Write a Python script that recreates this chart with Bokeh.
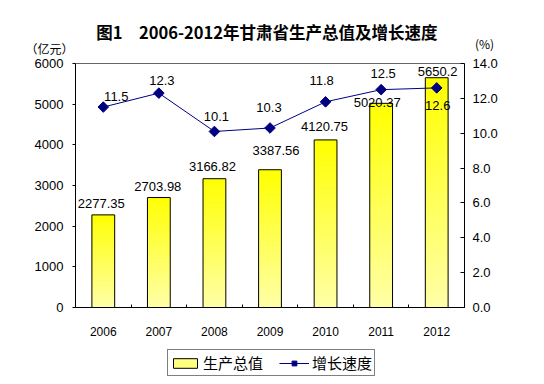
import math
from bokeh.plotting import figure
from bokeh.models import (ColumnDataSource, Range1d, LinearAxis, FixedTicker,
                          PrintfTickFormatter, Legend, LegendItem, Label)
from bokeh.core.properties import value
from bokeh.embed import file_html
from bokeh.resources import INLINE

# ---- data ----
years = ["2006", "2007", "2008", "2009", "2010", "2011", "2012"]
gdp = [2277.35, 2703.98, 3166.82, 3387.56, 4120.75, 5020.37, 5650.2]
growth = [11.5, 12.3, 10.1, 10.3, 11.8, 12.5, 12.6]
gdp_ticks = [0, 1000, 2000, 3000, 4000, 5000, 6000]
pct_ticks = [0, 2, 4, 6, 8, 10, 12, 14]
gdp_max = 6000
pct_max = 14
title_text = "图1　2006-2012年甘肃省生产总值及增长速度"
left_unit = "（亿元）"
right_unit = "(%)"
legend_labels = ["生产总值", "增长速度"]

# ---- label placement (pixels; style only) ----
bar_lbl_dx = [-2, -1, -2, 6, -1, -4, 1]
bar_lbl_dy = [11, 11, 12, 19, 13, 1, 6]
line_lbl_dx = [13, 3, 2, -1, -4, 2, 1]
line_lbl_dy = [11, 13, 15, 20, 21, 16, -18]

n = len(years)
xs = [i + 0.5 for i in range(n)]

FONT_NUM = "Liberation Sans"
FONT_CJK = "Noto Sans CJK SC"
W, H = 544, 384
# plot-area geometry inside the canvas (pixels)
PL, PR, PT, PB = 75, 80, 63, 77          # left/right/top/bottom margins
PW, PH = W - PL - PR, H - PT - PB        # 389 x 244
pxu = PW / n                             # pixels per category
BAR_COLOR_BOT = (255, 255, 168)
BAR_COLOR_TOP = (255, 255, 0)
LINE_COLOR = "#000080"
BW = 0.41


def y_ext(vmax):
    return Range1d(-PB / PH * vmax, vmax + PT / PH * vmax)


p = figure(width=W, height=H,
           x_range=Range1d(-PL / pxu, n + PR / pxu), y_range=y_ext(gdp_max),
           x_axis_type=None, y_axis_type=None,
           min_border=0, min_border_left=0, min_border_right=0,
           min_border_top=0, min_border_bottom=0,
           output_backend="svg", toolbar_location=None,
           background_fill_color="white", border_fill_color="white")
p.extra_y_ranges = {"pct": y_ext(pct_max)}
p.grid.visible = False
p.outline_line_color = None

# legend swatch renderer: a zero-height bar lying on the x axis (invisible)
leg_bar = p.vbar(x=xs[:1], top=[0], bottom=[0], width=BW, fill_color="#ffff80",
                 line_color="black", line_width=1)

# bars with vertical gradient (pale bottom -> yellow top)
N = 30
for k in range(N):
    t = (k + 0.5) / N
    col = tuple(int(round(BAR_COLOR_BOT[j] + (BAR_COLOR_TOP[j] - BAR_COLOR_BOT[j]) * t))
                for j in range(3))
    hexc = "#%02x%02x%02x" % col
    src = ColumnDataSource(dict(x=xs,
                                b=[v * k / N for v in gdp],
                                t=[v * (k + 1) / N for v in gdp]))
    p.vbar(x="x", bottom="b", top="t", width=BW, source=src,
           fill_color=hexc, line_color=hexc, line_width=0.6)

bar_src = ColumnDataSource(dict(x=xs, top=gdp, lbl=[("%g" % v) for v in gdp],
                                dx=bar_lbl_dx, dy=[-d for d in bar_lbl_dy]))
p.vbar(x="x", top="top", width=BW, source=bar_src,
       fill_color=None, line_color="black", line_width=1)
p.text(x="x", y="top", text="lbl", source=bar_src,
       x_offset="dx", y_offset="dy",
       text_align="center", text_baseline="middle",
       text_font=value(FONT_NUM), text_font_size="13px", text_color="black")

# top edge of the plot area
p.segment(x0=[0], x1=[n], y0=[gdp_max], y1=[gdp_max], line_color="#666666", line_width=1)

# growth line
line_src = ColumnDataSource(dict(x=xs, y=growth, lbl=[("%.1f" % v) for v in growth],
                                 dx=line_lbl_dx, dy=[-d for d in line_lbl_dy]))
ln = p.line(x="x", y="y", source=line_src, y_range_name="pct",
            line_color=LINE_COLOR, line_width=1)
mk = p.scatter(x="x", y="y", source=line_src, y_range_name="pct",
               marker="square", size=7.5, angle=math.pi / 4,
               fill_color=LINE_COLOR, line_color=LINE_COLOR)
p.text(x="x", y="y", text="lbl", source=line_src, y_range_name="pct",
       x_offset="dx", y_offset="dy",
       text_align="center", text_baseline="middle",
       text_font=value(FONT_NUM), text_font_size="13px", text_color="black")

# ---- axes (drawn at the plot-area edges) ----
xa = LinearAxis(fixed_location=0, bounds=(0, n),
                ticker=FixedTicker(ticks=xs, minor_ticks=list(range(0, n + 1))))
xa.major_label_overrides = {x: y for x, y in zip(xs, years)}
xa.major_tick_line_color = None
xa.minor_tick_in = 3
xa.minor_tick_out = 0
xa.minor_tick_line_color = "black"
xa.axis_line_color = "black"
xa.major_label_standoff = 13
xa.major_label_text_font = FONT_NUM
xa.major_label_text_font_size = "12px"
xa.major_label_text_color = "black"
p.add_layout(xa, "below")

ya = LinearAxis(fixed_location=0, bounds=(0, gdp_max), ticker=FixedTicker(ticks=gdp_ticks))
ya.major_tick_out = 3
ya.major_tick_in = 0
ya.minor_tick_line_color = None
ya.axis_line_color = "black"
ya.major_tick_line_color = "black"
ya.major_label_standoff = 9
ya.major_label_text_font = FONT_NUM
ya.major_label_text_font_size = "13px"
ya.major_label_text_color = "black"
p.add_layout(ya, "left")

ra = LinearAxis(y_range_name="pct", fixed_location=n, bounds=(0, pct_max),
                ticker=FixedTicker(ticks=pct_ticks),
                formatter=PrintfTickFormatter(format="%.1f"))
ra.major_tick_out = 0
ra.major_tick_in = 4
ra.minor_tick_line_color = None
ra.axis_line_color = "black"
ra.major_tick_line_color = "black"
ra.major_label_standoff = 8
ra.major_label_text_font = FONT_NUM
ra.major_label_text_font_size = "13px"
ra.major_label_text_color = "black"
p.add_layout(ra, "right")

# ---- title & units ----
def px_to_x(px):
    return (px - PL) / pxu


def px_up_to_y(px_above_top, vmax):
    return vmax + px_above_top / PH * vmax


p.add_layout(Label(x=px_to_x(266.4), y=px_up_to_y(32, gdp_max), text=title_text,
                   text_align="center", text_baseline="middle",
                   text_font=FONT_CJK, text_font_size="16.5px",
                   text_font_style="bold", text_color="black"))
p.add_layout(Label(x=px_to_x(49), y=px_up_to_y(15.5, gdp_max), text=left_unit,
                   text_align="center", text_baseline="middle",
                   text_font=FONT_CJK, text_font_size="12px", text_color="black"))
p.add_layout(Label(x=px_to_x(484), y=px_up_to_y(20.5, gdp_max), text=right_unit,
                   text_align="center", text_baseline="middle",
                   text_font=FONT_CJK, text_font_size="12px", text_color="black"))

# ---- legend ----
legend = Legend(items=[LegendItem(label=legend_labels[0], renderers=[leg_bar]),
                       LegendItem(label=legend_labels[1], renderers=[ln, mk])],
                orientation="horizontal", location=(167, 8),
                border_line_color="black", border_line_width=1,
                background_fill_color="white", background_fill_alpha=1,
                label_text_font=FONT_CJK, label_text_font_size="15px",
                label_text_color="black",
                glyph_width=30, glyph_height=12, label_height=15,
                label_standoff=3, spacing=16, padding=2, margin=0)
p.add_layout(legend, "center")

open("out.html", "w").write(file_html(p, INLINE))
